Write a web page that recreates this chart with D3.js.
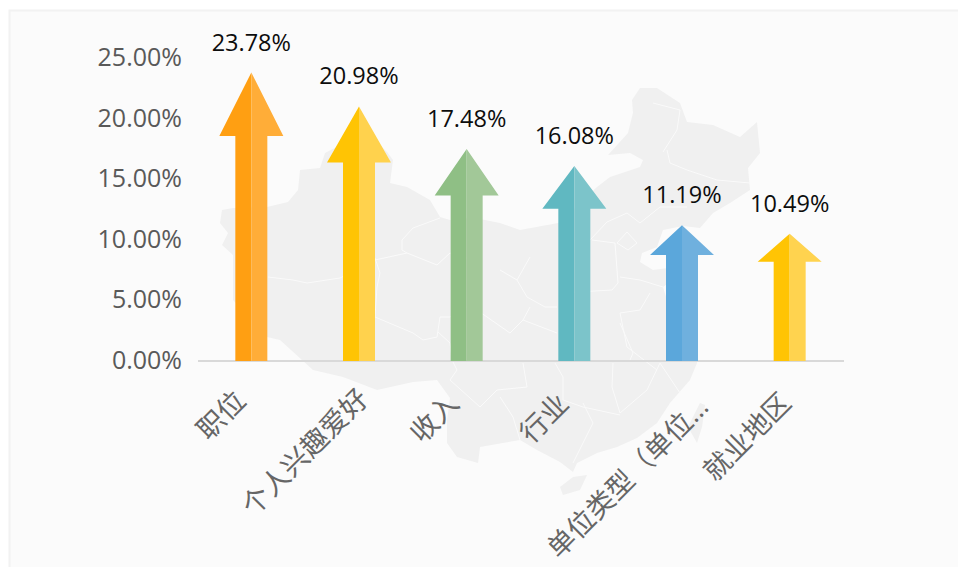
<!DOCTYPE html>
<html><head><meta charset="utf-8">
<script src="https://cdn.jsdelivr.net/npm/d3@7"></script>
<style>html,body{margin:0;background:#fff}svg{display:block}</style></head>
<body><svg id="c" width="958" height="567"></svg>
<script>
const categories=["职位","个人兴趣爱好","收入","行业","单位类型（单位…","就业地区"];
const values=[23.78,20.98,17.48,16.08,11.19,10.49];
const darkColors=["#ff9f12","#ffc404","#8fbf85","#60b8c1","#5ba7db","#ffc404"];
const lightColors=["#ffad38","#ffd24d","#a2c898","#7cc4ca","#6fb0de","#ffd34f"];
const yTicks=[0,5,10,15,20,25];
const labelNudgeX=[-22,-7,-24,-22,10,-15];
const labelNudgeY=[-3,-5,0,0,3,-1];
// decorative background map
const mapOutline=[[222,210],[233,208],[267,207],[288,202],[298,190],[300,170],[320,168],[325,153],[350,140],[375,140],[387,152],[393,160],[390,183],[407,187],[430,200],[440,217],[450,220],[475,218],[500,223],[520,230],[558,223],[597,187],[610,177],[640,167],[643,160],[630,153],[608,155],[628,133],[633,113],[632,100],[640,88],[657,88],[680,103],[687,122],[713,125],[740,137],[757,122],[760,153],[748,168],[750,190],[730,203],[713,213],[700,228],[683,226],[663,230],[657,247],[642,253],[640,262],[653,270],[668,268],[690,258],[680,275],[663,287],[670,310],[690,325],[698,345],[697,363],[690,380],[670,403],[657,423],[637,438],[617,447],[597,453],[577,463],[573,472],[560,462],[537,450],[520,440],[480,447],[478,463],[457,457],[447,443],[447,420],[450,398],[437,380],[413,382],[377,390],[343,377],[313,370],[280,340],[267,337],[233,300],[233,255],[222,245],[228,233],[220,223]];
const taiwan=[[700,403],[705,405],[702,427],[697,443],[688,427]];
const hainan=[[560,487],[573,477],[587,475],[580,490],[563,495]];
const provinceLines=[
[[268,277],[293,280],[307,283],[340,278],[375,260],[407,253],[437,265],[450,253],[480,262]],
[[402,240],[413,228],[440,218]],[[402,240],[402,250],[407,253]],
[[375,258],[380,273],[377,287],[375,317],[413,333],[423,340],[437,337],[440,317],[450,317],[470,305],[487,317]],
[[438,332],[450,343],[452,360],[457,370],[450,380],[480,407],[497,390],[527,387],[523,363]],
[[667,150],[670,163],[687,170],[717,180],[750,183]],
[[653,103],[680,110],[677,130],[663,152]],
[[590,240],[607,222],[627,213],[640,223],[660,207],[687,207]],
[[617,243],[627,232],[637,243],[628,250],[617,243]],
[[592,240],[615,243],[618,283],[612,290],[560,293]],
[[620,277],[640,280],[663,287]],
[[530,257],[517,280],[527,297],[545,307],[557,307]],
[[500,270],[517,280]],
[[620,313],[640,310],[650,293]],
[[620,313],[627,347],[657,370]],
[[500,397],[513,417],[520,440]],
[[583,403],[593,423],[573,463]],
[[613,363],[612,387],[620,413],[647,390],[660,363],[680,393]],
[[555,363],[563,377],[563,400],[583,407],[620,415]],
[[487,317],[510,333],[523,320],[557,333]],
[[530,307],[523,320]],
[[620,323],[633,353],[630,360]]
];
const svg=d3.select("#c");
svg.append("rect").attr("x",9.5).attr("y",10.5).attr("width",960).attr("height",570).attr("fill","#fbfbfb").attr("stroke","#f2f2f2").attr("stroke-width",2);
const map=svg.append("g");
const closed=d3.line().curve(d3.curveLinearClosed);
[mapOutline,taiwan,hainan].forEach(r=>map.append("path").attr("d",closed(r)).attr("fill","#f0f0f0"));
map.selectAll(".pl").data(provinceLines).join("path").attr("class","pl").attr("d",d3.line()).attr("fill","none").attr("stroke","#fafafa").attr("stroke-width",1);
const x=d3.scaleBand().domain(categories).range([198,844]);
const y=d3.scaleLinear().domain([0,25]).range([361,57.7]);
const font="'Open Sans','Noto Sans CJK SC',sans-serif";
svg.append("line").attr("x1",198).attr("x2",844).attr("y1",y(0)).attr("y2",y(0)).attr("stroke","#d9d9d9").attr("stroke-width",2);
svg.selectAll(".yt").data(yTicks).join("text").attr("class","yt").attr("x",182).attr("y",d=>y(d)-0.6).attr("dy","0.35em").attr("text-anchor","end")
 .attr("font-family",font).attr("font-size",25).attr("fill","#595959").text(d=>d.toFixed(2)+"%");
const g=svg.selectAll(".a").data(categories.map((c,i)=>({c,i,v:values[i]}))).join("g").attr("class","a");
const sw=16,hw=32,hr=0.22;
g.append("path").attr("fill",d=>darkColors[d.i]).attr("d",d=>{const c=x(d.c)+x.bandwidth()/2-0.5,t=y(d.v),b=y(0),n=t+(b-t)*hr;
 return `M${c},${t}L${c-hw},${n}L${c-sw},${n}L${c-sw},${b}L${c},${b}Z`;});
g.append("path").attr("fill",d=>lightColors[d.i]).attr("d",d=>{const c=x(d.c)+x.bandwidth()/2-0.5,t=y(d.v),b=y(0),n=t+(b-t)*hr;
 return `M${c},${t}L${c+hw},${n}L${c+sw},${n}L${c+sw},${b}L${c},${b}Z`;});
g.append("text").attr("x",d=>x(d.c)+x.bandwidth()/2-0.5).attr("y",d=>y(d.v)-22).attr("text-anchor","middle").attr("font-family",font).attr("font-size",23.5).attr("fill","#0d0d0d").text(d=>d.v.toFixed(2)+"%");
g.append("text").attr("text-anchor","end").attr("font-family",font).attr("font-size",27.5).attr("fill","#666666")
 .attr("transform",d=>`translate(${x(d.c)+x.bandwidth()/2+4+labelNudgeX[d.i]},${392+labelNudgeY[d.i]}) rotate(-45)`).attr("dy","0.7em").text(d=>d.c);
</script></body></html>
